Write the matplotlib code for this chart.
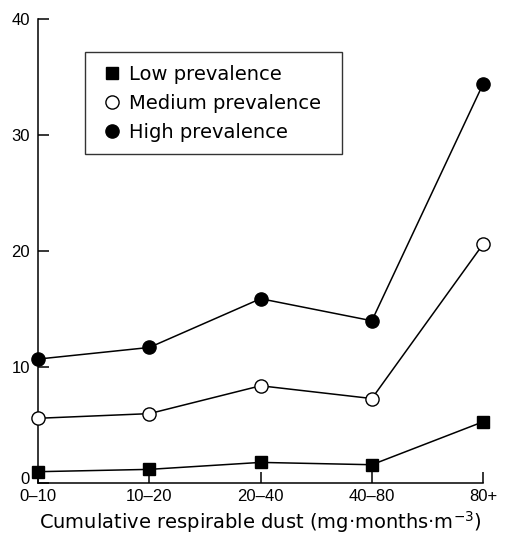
import matplotlib.pyplot as plt
import matplotlib.transforms as mtransforms

plt.rcParams["font.family"] = ["Liberation Sans", "DejaVu Sans"]

# dust exposure groups and prevalence (%) per group
categories = ["0\u201310", "10\u201320", "20\u201340", "40\u201380", "80+"]
low = [1.0, 1.2, 1.8, 1.6, 5.3]
medium = [5.6, 6.0, 8.4, 7.3, 20.6]
high = [10.7, 11.7, 15.9, 14.0, 34.4]

fig = plt.figure(figsize=(5.08, 5.4), dpi=100)
ax = fig.add_axes([0.075, 0.105, 0.876, 0.86])

x = range(len(categories))
ax.plot(x, low, "-s", color="k", mfc="k", ms=9, lw=1.1, clip_on=False, label="Low prevalence", zorder=3)
ax.plot(x, medium, "-o", color="k", mfc="white", ms=9.5, lw=1.1, clip_on=False, label="Medium prevalence", zorder=3)
ax.plot(x, high, "-o", color="k", mfc="k", ms=9.5, lw=1.1, clip_on=False, label="High prevalence", zorder=3)

ax.set_xlim(0, 4)
ax.set_ylim(0, 40)
ax.set_xticks(list(x))
ax.set_xticklabels(categories)
ax.set_yticks([0, 10, 20, 30, 40])
ax.tick_params(direction="in", length=8, width=1.1, labelsize=12, pad=6)
ax.tick_params(axis="x", pad=4)

# lift the "0" label a bit so it clears the first category label
zero = ax.get_yticklabels()[0]
zero.set_transform(zero.get_transform() + mtransforms.ScaledTranslation(0, 4 / 72, fig.dpi_scale_trans))

for s in ["top", "right"]:
    ax.spines[s].set_visible(False)
for s in ["left", "bottom"]:
    ax.spines[s].set_linewidth(1.1)

ax.set_xlabel("Cumulative respirable dust (mg\u00b7months\u00b7m$^{-3}$)", fontsize=14,
              family="DejaVu Sans", labelpad=4)

leg = ax.legend(loc="upper left", bbox_to_anchor=(0.106, 0.5, 0.578, 0.429), mode="expand",
                prop={"family": "DejaVu Sans", "size": 14},
                frameon=True, fancybox=False, edgecolor="k", handlelength=1.5, handletextpad=0.1,
                borderpad=0.65, labelspacing=0.52, borderaxespad=0)
leg.get_frame().set_linewidth(1.0)
for h in leg.legend_handles:
    h.set_linestyle("none")

fig.savefig("out.png", dpi=100)
